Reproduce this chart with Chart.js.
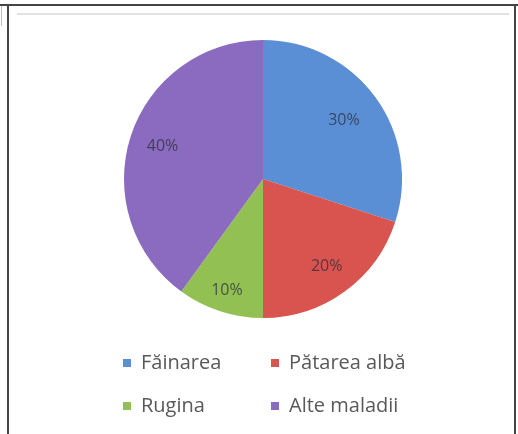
<!DOCTYPE html>
<html>
<head>
<meta charset="utf-8">
<script src="https://cdn.jsdelivr.net/npm/chart.js@4/dist/chart.umd.min.js"></script>
<style>
  body { margin: 0; background: #fff; }
  #wrap { position: relative; width: 518px; height: 434px; }
  .ln { position: absolute; background: #444; }
</style>
</head>
<body>
<div id="wrap">
  <canvas id="pieChart" width="518" height="434"></canvas>
  <div class="ln" style="left:0;top:4px;width:518px;height:2px"></div>
  <div class="ln" style="left:7px;top:4px;width:2px;height:430px"></div>
  <div class="ln" style="left:514px;top:4px;width:2px;height:430px"></div>
  <div class="ln" style="left:1px;top:6px;width:1px;height:20px;background:#bbb"></div>
  <div class="ln" style="left:17px;top:13px;width:492px;height:2px;background:#e2e2e2"></div>
</div>
<script>
// pie data
var diseaseLabels = ["Făinarea", "Pătarea albă", "Rugina", "Alte maladii"];
var diseaseShare = [30, 20, 10, 40];
var sliceColors = ["#5b8fd5", "#d9534f", "#93c052", "#8a6bbf"];

// how far out (fraction of radius) each % label sits, like excel's best fit
var labelReach = [0.72, 0.78, 0.84, 0.76];

// percent text inside each slice
var pctLabels = {
  id: "pctLabels",
  afterDatasetsDraw: function(chart) {
    var ctx = chart.ctx;
    var meta = chart.getDatasetMeta(0);
    ctx.save();
    ctx.font = "16px 'Open Sans'";
    ctx.fillStyle = "rgba(45,45,60,0.75)";
    ctx.textAlign = "center";
    ctx.textBaseline = "middle";
    meta.data.forEach(function(arc, i) {
      var p = arc.getProps(["x", "y", "startAngle", "endAngle", "outerRadius"], true);
      var mid = (p.startAngle + p.endAngle) / 2;
      var r = p.outerRadius * labelReach[i];
      ctx.fillText(diseaseShare[i] + "%", p.x + Math.cos(mid) * r, p.y + Math.sin(mid) * r);
    });
    ctx.restore();
  }
};

// 2x2 legend under the pie
var gridLegend = {
  id: "gridLegend",
  afterDraw: function(chart) {
    var ctx = chart.ctx;
    var cols = [123, 271];
    var rows = [363, 406];
    ctx.save();
    ctx.font = "20px 'Open Sans'";
    ctx.textBaseline = "middle";
    chart.data.labels.forEach(function(lbl, i) {
      var x = cols[i % 2], y = rows[Math.floor(i / 2)];
      ctx.fillStyle = sliceColors[i];
      ctx.fillRect(x, y - 4, 8, 8);
      ctx.fillStyle = "#595959";
      ctx.fillText(lbl, x + 18, y);
    });
    ctx.restore();
  }
};

var pieChart = new Chart(document.getElementById("pieChart"), {
  type: "pie",
  data: {
    labels: diseaseLabels,
    datasets: [{
      data: diseaseShare,
      backgroundColor: sliceColors,
      borderWidth: 0
    }]
  },
  options: {
    responsive: false,
    animation: false,
    layout: { padding: { top: 40, bottom: 116, left: 124, right: 116 } },
    plugins: {
      legend: { display: false },
      tooltip: { enabled: false }
    }
  },
  plugins: [pctLabels, gridLegend]
});
</script>
</body>
</html>
